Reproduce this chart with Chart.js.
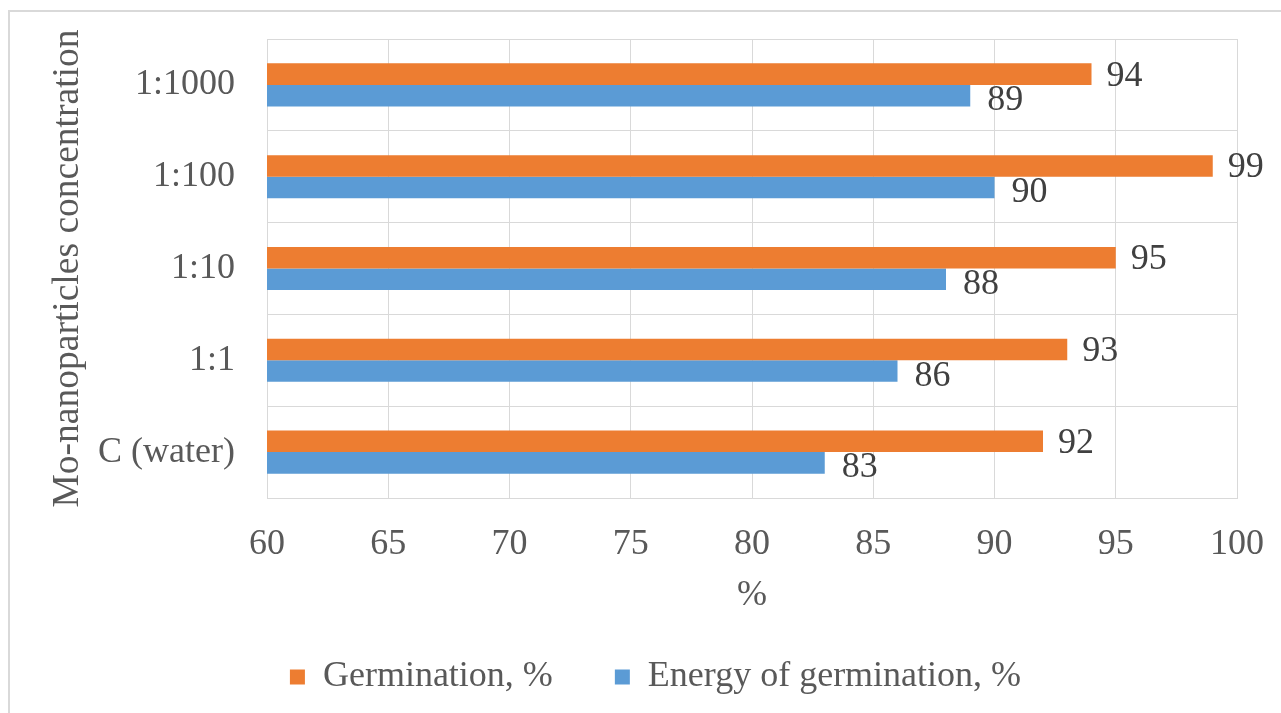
<!DOCTYPE html>
<html>
<head>
<meta charset="utf-8">
<script src="https://cdn.jsdelivr.net/npm/chart.js@4/dist/chart.umd.min.js"></script>
<style>
  body { margin: 0; background: #fff; }
  #frame { position: absolute; left: 8px; top: 10px; width: 1400px; height: 800px; border: 2px solid #d9d9d9; }
  #wrap { position: absolute; left: 0; top: 0; width: 1281px; height: 713px; }
</style>
</head>
<body>
<div id="frame"></div>
<div id="wrap"><canvas id="bar-chart" width="1281" height="713"></canvas></div>
<script>
var categories = ["1:1000", "1:100", "1:10", "1:1", "C (water)"];
var germination = [94, 99, 95, 93, 92];
var energyOfGermination = [89, 90, 88, 86, 83];
var xTicks = [60, 65, 70, 75, 80, 85, 90, 95, 100];

var serif = "'Liberation Serif', 'Times New Roman', serif";

// value labels next to the bar ends
var valueLabels = {
    id: 'valueLabels',
    afterDatasetsDraw: function(chart) {
        var ctx = chart.ctx;
        ctx.save();
        ctx.font = "36px " + serif;
        ctx.fillStyle = "#404040";
        ctx.textAlign = "left";
        ctx.textBaseline = "middle";
        chart.data.datasets.forEach(function(ds, i) {
            var meta = chart.getDatasetMeta(i);
            meta.data.forEach(function(bar, j) {
                var dx = i === 0 ? 15 : 17;
                var dy = i === 0 ? 2 : 5;
                ctx.fillText(ds.data[j], bar.x + dx, bar.y + dy);
            });
        });
        ctx.restore();
    }
};

new Chart(document.getElementById("bar-chart"), {
    type: 'bar',
    data: {
      labels: categories,
      datasets: [
        {
            label: "Germination, %",
            backgroundColor: "#ED7D31",
            data: germination
        }, {
            label: "Energy of germination, %",
            backgroundColor: "#5B9BD5",
            data: energyOfGermination
        }
      ]
    },
    plugins: [valueLabels],
    options: {
        indexAxis: 'y',
        responsive: false,
        animation: false,
        categoryPercentage: 0.47,
        barPercentage: 1.0,
        layout: {
            padding: { left: 74, right: 44, top: 39, bottom: 8 }
        },
        scales: {
            x: {
                min: 60,
                max: 100,
                afterBuildTicks: function(scale) {
                    scale.ticks = xTicks.map(function(v) { return { value: v }; });
                },
                afterFit: function(scale) {
                    scale.height = 99;
                    scale.paddingLeft = 0;
                    scale.paddingRight = 0;
                },
                grid: { color: "#d9d9d9", drawTicks: false },
                border: { color: "#d9d9d9" },
                ticks: {
                    color: "#595959",
                    padding: 25,
                    font: { family: serif, size: 36 }
                },
                title: {
                    display: true,
                    text: "%",
                    color: "#595959",
                    padding: { top: 0, bottom: -20 },
                    font: { family: serif, size: 36 }
                }
            },
            y: {
                afterFit: function(scale) {
                    scale.width = 193;
                    scale.paddingTop = 0;
                    scale.paddingBottom = 0;
                },
                grid: { color: "#d9d9d9", drawTicks: false },
                border: { color: "#d9d9d9" },
                ticks: {
                    color: "#595959",
                    padding: 32,
                    font: { family: serif, size: 36 }
                },
                title: {
                    display: true,
                    text: "Mo-nanoparticles concentration",
                    color: "#595959",
                    padding: { top: -28, bottom: 0 },
                    font: { family: serif, size: 37.5 }
                }
            }
        },
        plugins: {
            tooltip: { enabled: false },
            legend: {
                display: true,
                position: 'bottom',
                labels: {
                    boxWidth: 15,
                    boxHeight: 15,
                    padding: 62,
                    color: "#595959",
                    font: { family: serif, size: 36 }
                }
            }
        }
    }
});
</script>
</body>
</html>
